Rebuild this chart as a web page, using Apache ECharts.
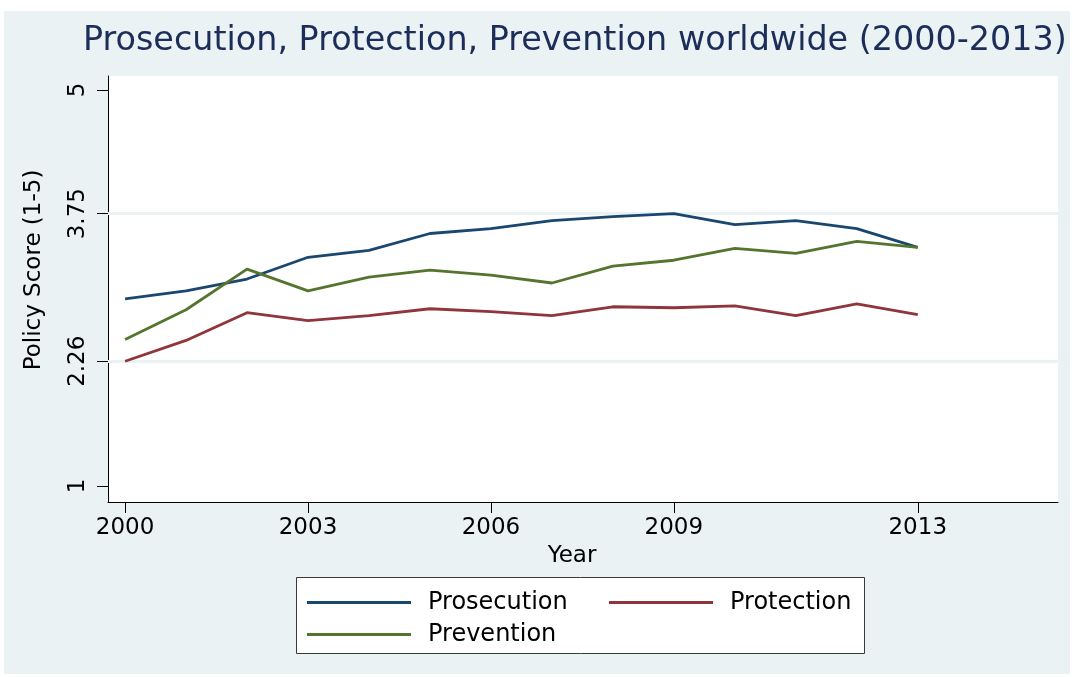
<!DOCTYPE html>
<html>
<head>
<meta charset="utf-8">
<script src="https://cdn.jsdelivr.net/npm/echarts@6/dist/echarts.min.js"></script>
<style>
html,body{margin:0;padding:0;background:#fff;}
#c{width:1073px;height:677px;}
</style>
</head>
<body>
<div id="c"></div>
<script>
var years = [2000,2001,2002,2003,2004,2005,2006,2007,2008,2009,2010,2011,2012,2013];
var prosecution = [2.89,2.97,3.09,3.31,3.38,3.55,3.60,3.68,3.72,3.75,3.64,3.68,3.60,3.41];
var protection  = [2.26,2.47,2.75,2.67,2.72,2.79,2.76,2.72,2.81,2.80,2.82,2.72,2.84,2.73];
var prevention  = [2.48,2.78,3.19,2.97,3.11,3.18,3.13,3.05,3.22,3.28,3.40,3.35,3.47,3.41];
var xTicks = [2000,2003,2006,2009,2013];
var yTicks = [1,2.26,3.75,5];
var yGridLines = [2.26,3.75];
var seriesNames = ['Prosecution','Protection','Prevention'];

function pairs(vals){ return years.map(function(y,i){ return [y, vals[i]]; }); }

var FONT = 'DejaVu Sans';
var colors = ['#1a476f','#90353b','#55752f'];

var chart = echarts.init(document.getElementById('c'), null, {renderer:'canvas'});
var baseSeries = function(name, vals, color, extra){
  var s = {
    name: name, type: 'line', data: pairs(vals), symbol: 'none', z: 3,
    lineStyle: {color: color, width: 2.8}, itemStyle: {color: color},
    emphasis: {disabled: true}, animation: false
  };
  if (extra) for (var k in extra) s[k] = extra[k];
  return s;
};

var legendText = {fontFamily:FONT, fontSize:24, color:'#000', lineHeight:24, width:150, padding:[0,0,0,12]};

chart.setOption({
  backgroundColor: 'transparent',
  animation: false,
  title: {
    text: 'Prosecution, Protection, Prevention worldwide (2000-2013)',
    left: 78, top: 20,
    textStyle: {fontFamily: FONT, fontSize: 33.4, fontWeight: 'normal', color: '#1c2d5a'}
  },
  graphic: [
    {type:'rect', z:-10, shape:{x:4, y:11, width:1066, height:663}, style:{fill:'#eaf2f3'}},
    {type:'rect', z:1, shape:{x:296.5, y:577.5, width:568, height:76}, style:{fill:'#fff', stroke:'#3a3a3a', lineWidth:1}}
  ],
  grid: {left:108, right:15, top:76, bottom:175, show:true, backgroundColor:'#fff', borderWidth:0},
  xAxis: {
    type:'value', min:1999.72, max:2015.3,
    name:'Year', nameLocation:'middle', nameGap:39,
    nameTextStyle:{fontFamily:FONT, fontSize:23, color:'#000', padding:[0,22,0,0]},
    axisLine:{show:true, onZero:false, lineStyle:{color:'#000', width:1}},
    axisTick:{show:true, length:11, customValues: xTicks, lineStyle:{color:'#000'}},
    axisLabel:{customValues: xTicks, margin:15, fontFamily:FONT, fontSize:23, color:'#000',
      formatter:function(v){return String(v);}},
    splitLine:{show:false}
  },
  yAxis: {
    type:'value', min:0.838, max:5.141,
    name:'Policy Score (1-5)', nameLocation:'middle', nameGap:62, nameRotate:90,
    nameTextStyle:{fontFamily:FONT, fontSize:23, color:'#000', padding:[0,0,0,38]},
    axisLine:{show:true, onZero:false, lineStyle:{color:'#000', width:1}},
    axisTick:{show:true, length:11, customValues: yTicks, lineStyle:{color:'#000'}},
    axisLabel:{customValues: yTicks, rotate:90, margin:18, fontFamily:FONT, fontSize:23, color:'#000',
      formatter:function(v){ var i = yTicks.indexOf(v); return i>=0 ? String(yTicks[i]) : ''; }},
    splitLine:{show:false}
  },
  legend: [
    {
      data: [seriesNames[0], seriesNames[1]], left:307, top:590.5, orient:'horizontal',
      icon:'rect', itemWidth:104, itemHeight:3, itemGap:31, padding:0, selectedMode:false,
      textStyle: legendText
    },
    {
      data: [seriesNames[2]], left:307, top:622.5, orient:'horizontal',
      icon:'rect', itemWidth:104, itemHeight:3, itemGap:31, padding:0, selectedMode:false,
      textStyle: legendText
    }
  ],
  series: [
    baseSeries(seriesNames[0], prosecution, colors[0], {
      markLine: {
        silent:true, symbol:'none', z:1, animation:false,
        label:{show:false},
        lineStyle:{color:'#eaf2f3', width:3, type:'solid'},
        emphasis:{disabled:true},
        data: yGridLines.map(function(v){return {yAxis:v};})
      }
    }),
    baseSeries(seriesNames[1], protection, colors[1]),
    baseSeries(seriesNames[2], prevention, colors[2])
  ]
});
</script>
</body>
</html>
